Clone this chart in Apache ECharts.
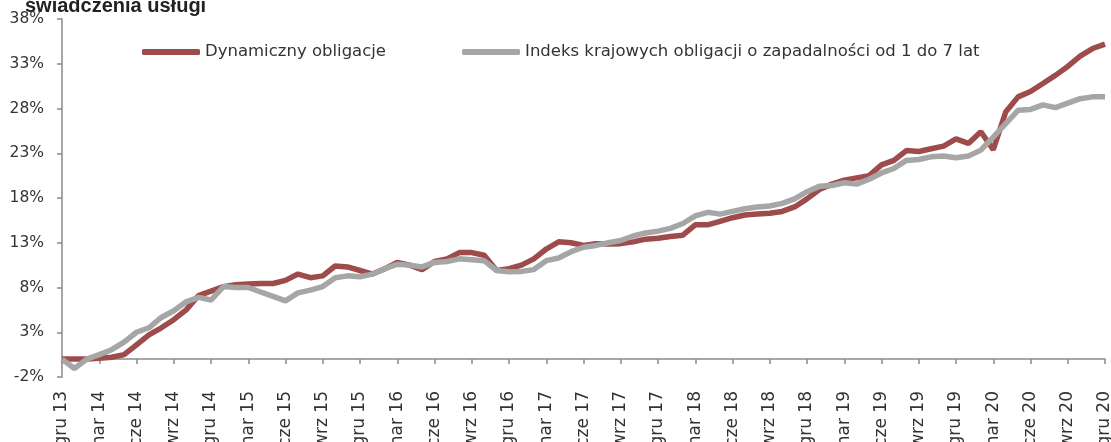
<!DOCTYPE html>
<html>
<head>
<meta charset="utf-8">
<script src="https://cdn.jsdelivr.net/npm/echarts@6/dist/echarts.min.js"></script>
<style>
  html, body { margin: 0; padding: 0; background: #fff; }
  #chart { width: 1111px; height: 442px; }
</style>
</head>
<body>
<div id="chart"></div>
<script>
const months = [
  'gru 13',
  'sty 14', 'lut 14', 'mar 14', 'kwi 14', 'maj 14', 'cze 14', 'lip 14', 'sie 14', 'wrz 14', 'paź 14', 'lis 14', 'gru 14',
  'sty 15', 'lut 15', 'mar 15', 'kwi 15', 'maj 15', 'cze 15', 'lip 15', 'sie 15', 'wrz 15', 'paź 15', 'lis 15', 'gru 15',
  'sty 16', 'lut 16', 'mar 16', 'kwi 16', 'maj 16', 'cze 16', 'lip 16', 'sie 16', 'wrz 16', 'paź 16', 'lis 16', 'gru 16',
  'sty 17', 'lut 17', 'mar 17', 'kwi 17', 'maj 17', 'cze 17', 'lip 17', 'sie 17', 'wrz 17', 'paź 17', 'lis 17', 'gru 17',
  'sty 18', 'lut 18', 'mar 18', 'kwi 18', 'maj 18', 'cze 18', 'lip 18', 'sie 18', 'wrz 18', 'paź 18', 'lis 18', 'gru 18',
  'sty 19', 'lut 19', 'mar 19', 'kwi 19', 'maj 19', 'cze 19', 'lip 19', 'sie 19', 'wrz 19', 'paź 19', 'lis 19', 'gru 19',
  'sty 20', 'lut 20', 'mar 20', 'kwi 20', 'maj 20', 'cze 20', 'lip 20', 'sie 20', 'wrz 20', 'paź 20', 'lis 20', 'gru 20'
]

// Dynamiczny obligacje (%)
const dynamic = [
  0,
  0, 0, 0.1, 0.2, 0.5, 1.6, 2.7, 3.5, 4.4, 5.5, 7.1, 7.6,
  8.1, 8.3, 8.4, 8.45, 8.45, 8.8, 9.5, 9.1, 9.3, 10.4, 10.3, 9.9,
  9.5, 10.1, 10.8, 10.5, 10.0, 10.9, 11.2, 11.9, 11.9, 11.6, 9.9, 10.1,
  10.5, 11.2, 12.3, 13.1, 13.0, 12.7, 12.9, 12.85, 12.9, 13.1, 13.4, 13.5,
  13.7, 13.85, 15.0, 15.0, 15.4, 15.8, 16.1, 16.2, 16.3, 16.5, 17.0, 17.9,
  18.95, 19.55, 20.0, 20.25, 20.5, 21.7, 22.2, 23.3, 23.2, 23.5, 23.8, 24.6,
  24.1, 25.4, 23.4, 27.6, 29.3, 29.9, 30.8, 31.7, 32.7, 33.85, 34.7, 35.2
]

// Indeks krajowych obligacji o zapadalności od 1 do 7 lat (%)
const index17 = [
  0,
  -1.05, 0.0, 0.5, 1.05, 1.9, 3.0, 3.5, 4.65, 5.4, 6.4, 6.9, 6.6,
  8.1, 8.0, 8.0, 7.5, 7.0, 6.5, 7.4, 7.7, 8.1, 9.1, 9.3, 9.2,
  9.5, 10.1, 10.6, 10.5, 10.3, 10.8, 10.9, 11.2, 11.1, 11.0, 9.9, 9.75,
  9.8, 10.0, 11.0, 11.3, 12.0, 12.5, 12.7, 13.0, 13.25, 13.75, 14.1, 14.3,
  14.6, 15.15, 16.0, 16.4, 16.2, 16.5, 16.8, 17.0, 17.1, 17.4, 17.9, 18.7,
  19.3, 19.4, 19.7, 19.55, 20.1, 20.8, 21.3, 22.2, 22.3, 22.6, 22.7, 22.5,
  22.7, 23.35, 24.8, 26.3, 27.8, 27.9, 28.4, 28.1, 28.6, 29.1, 29.3, 29.3
]

const seriesNames = ['Dynamiczny obligacje', 'Indeks krajowych obligacji o zapadalności od 1 do 7 lat']
const colors = ['#9e4b4b', '#a6a6a6']
const axisColor = '#8a8a8a'
const textColor = '#333333'
const font = 'DejaVu Sans'

const chart = echarts.init(document.getElementById('chart'), null, { renderer: 'canvas' })

chart.setOption({
  animation: false,
  backgroundColor: '#ffffff',
  // title is cut off by the top edge in the source image
  graphic: [
    {
      type: 'text',
      left: 25,
      top: -4,
      silent: true,
      style: {
        text: 'świadczenia usługi',
        font: 'bold 20px "Liberation Sans"',
        fill: '#222222',
      },
    },
  ],
  legend: {
    data: seriesNames,
    left: 137,
    top: 38,
    itemWidth: 58,
    itemHeight: 6,
    itemGap: 76,
    icon: 'roundRect',
    textStyle: { fontFamily: font, fontSize: 16.5, color: textColor, lineHeight: 18 },
  },
  grid: {
    left: 62,
    right: 6,
    top: 19,
    bottom: 65,
    containLabel: false,
    outerBoundsMode: 'none',
  },
  xAxis: [
    {
      // axis line drawn on the zero level with ticks
      type: 'category',
      data: months,
      boundaryGap: false,
      position: 'bottom',
      axisLine: { onZero: true, lineStyle: { color: axisColor, width: 1.5 } },
      axisTick: { show: true, interval: 2, length: 5, lineStyle: { color: axisColor, width: 1.5 } },
      axisLabel: { show: false },
      splitLine: { show: false },
    },
    {
      // labels at the bottom of the plot
      type: 'category',
      data: months,
      boundaryGap: false,
      position: 'bottom',
      axisLine: { show: false, onZero: false },
      axisTick: { show: false },
      axisLabel: {
        interval: 2,
        rotate: 90,
        margin: 14,
        fontFamily: font,
        fontSize: 17,
        color: textColor,
      },
      splitLine: { show: false },
    },
  ],
  yAxis: {
    type: 'value',
    min: -2,
    max: 38,
    interval: 5,
    axisLine: { show: true, lineStyle: { color: axisColor, width: 1.5 } },
    axisTick: { show: true, inside: false, length: 5, lineStyle: { color: axisColor, width: 1.5 } },
    axisLabel: {
      formatter: '{value}%',
      margin: 18,
      fontFamily: font,
      fontSize: 15.5,
      color: textColor,
    },
    splitLine: { show: false },
  },
  series: [
    {
      name: seriesNames[0],
      type: 'line',
      data: dynamic,
      showSymbol: false,
      symbol: 'none',
      lineStyle: { color: colors[0], width: 5.5 },
      itemStyle: { color: colors[0] },
    },
    {
      name: seriesNames[1],
      type: 'line',
      data: index17,
      showSymbol: false,
      symbol: 'none',
      lineStyle: { color: colors[1], width: 5.5 },
      itemStyle: { color: colors[1] },
    },
  ],
})
</script>
</body>
</html>
